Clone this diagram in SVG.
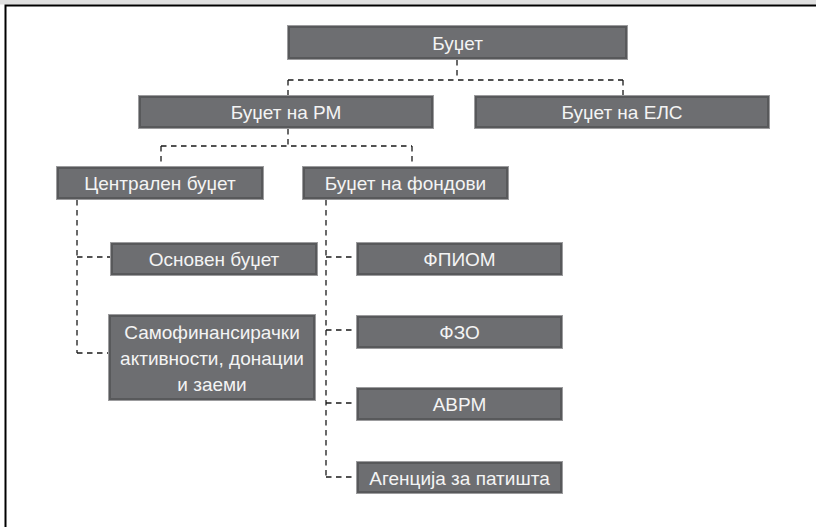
<svg xmlns="http://www.w3.org/2000/svg" width="816" height="527" viewBox="0 0 816 527">
<style>
.box{fill:#6d6e71;stroke:#58595b;stroke-width:2}
.edge{fill:none;stroke:#9c9c9e;stroke-width:1}
.lbl{font-family:"Liberation Sans",Arial,sans-serif;font-size:19px;fill:#f4f4f4;text-anchor:middle}
.conn{fill:none;stroke:#1a1a1a;stroke-width:1.3;stroke-dasharray:5.5 4.5}
</style>
<rect x="0" y="0" width="816" height="527" fill="#ffffff"/>
<rect x="0" y="0" width="816" height="4.5" fill="#e0e0e0"/>
<path d="M5.5 527 V5.5 H816" fill="none" stroke="#000" stroke-width="2"/>
<g id="connectors">
<path class="conn" d="M457 60 V80 M288 80 H623 M288 80 V96 M623 80 V96"/>
<path class="conn" d="M288 129 V146 M161 146 H412 M161 146 V167 M412 146 V167"/>
<path class="conn" d="M77 200 V353 M77 257 H111 M77 353 H109"/>
<path class="conn" d="M326 200 V477 M326 257 H357 M326 330 H357 M326 403 H357 M326 477 H357"/>
</g>
<g id="n-budzet"><rect class="edge" x="287.5" y="25.5" width="340" height="34"/><rect class="box" x="289" y="27" width="337" height="31"/><text class="lbl" x="457.5" y="49.5">Буџет</text></g>
<g id="n-rm"><rect class="edge" x="138.5" y="95.5" width="295" height="33"/><rect class="box" x="140" y="97" width="292" height="30"/><text class="lbl" x="286" y="119">Буџет на РМ</text></g>
<g id="n-els"><rect class="edge" x="474.5" y="95.5" width="295" height="33"/><rect class="box" x="476" y="97" width="292" height="30"/><text class="lbl" x="622" y="119">Буџет на ЕЛС</text></g>
<g id="n-centralen"><rect class="edge" x="56.5" y="166.5" width="207" height="33"/><rect class="box" x="58" y="168" width="204" height="30"/><text class="lbl" x="160" y="190">Централен буџет</text></g>
<g id="n-fondovi"><rect class="edge" x="302.5" y="166.5" width="206" height="33"/><rect class="box" x="304" y="168" width="203" height="30"/><text class="lbl" x="405.5" y="190">Буџет на фондови</text></g>
<g id="n-osnoven"><rect class="edge" x="110.5" y="242.5" width="207" height="33"/><rect class="box" x="112" y="244" width="204" height="30"/><text class="lbl" x="214" y="266">Основен буџет</text></g>
<g id="n-samofin"><rect class="edge" x="108.5" y="314.5" width="207" height="86"/><rect class="box" x="110" y="316" width="204" height="83"/><text class="lbl" x="212" y="338.5">Самофинансирачки</text><text class="lbl" x="212" y="364.5">активности, донации</text><text class="lbl" x="212" y="390.5">и заеми</text></g>
<g id="n-fpiom"><rect class="edge" x="356.5" y="242.5" width="206" height="33"/><rect class="box" x="358" y="244" width="203" height="30"/><text class="lbl" x="459.5" y="266">ФПИОМ</text></g>
<g id="n-fzo"><rect class="edge" x="356.5" y="315.5" width="206" height="33"/><rect class="box" x="358" y="317" width="203" height="30"/><text class="lbl" x="459.5" y="339">ФЗО</text></g>
<g id="n-avrm"><rect class="edge" x="356.5" y="387.5" width="206" height="33"/><rect class="box" x="358" y="389" width="203" height="30"/><text class="lbl" x="459.5" y="411">АВРМ</text></g>
<g id="n-agencija"><rect class="edge" x="356.5" y="461.5" width="206" height="32"/><rect class="box" x="358" y="463" width="203" height="29"/><text class="lbl" x="459.5" y="484.5">Агенција за патишта</text></g>
</svg>
